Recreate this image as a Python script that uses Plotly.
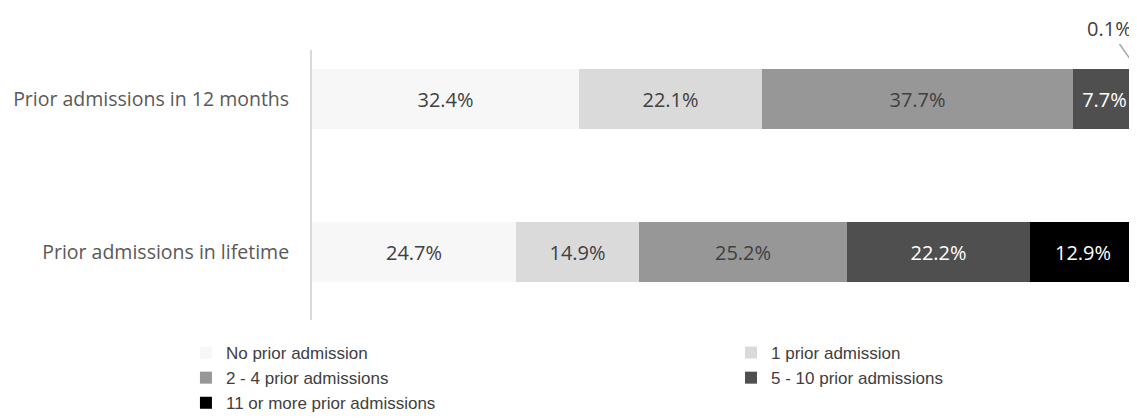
import plotly.graph_objects as go

categories = ["Prior admissions in lifetime", "Prior admissions in 12 months"]
series_names = ["No prior admission", "1 prior admission", "2 - 4 prior admissions",
                "5 - 10 prior admissions", "11 or more prior admissions"]
# values per series: [lifetime, 12 months]
no_prior = [24.7, 32.4]
one_prior = [14.9, 22.1]
two_four = [25.2, 37.7]
five_ten = [22.2, 7.7]
eleven_plus = [12.9, 0.1]

series_values = [no_prior, one_prior, two_four, five_ten, eleven_plus]
colors = ["#f7f7f7", "#dadada", "#979797", "#4f4f4f", "#000000"]
text_colors = ["#404040", "#404040", "#404040", "#ffffff", "#ffffff"]
legend_ids = ["legend", "legend2", "legend", "legend2", "legend"]

fig = go.Figure()
for name, vals, col, tcol, lg in zip(series_names, series_values, colors, text_colors, legend_ids):
    texts = [f"{v}%" if v >= 1 else "" for v in vals]
    fig.add_trace(go.Bar(
        y=categories, x=vals, name=name, orientation="h",
        marker=dict(color=col, line=dict(width=0)),
        text=texts, textposition="inside", insidetextanchor="middle",
        textfont=dict(family="Open Sans", size=20, color=tcol),
        width=0.392, hoverinfo="skip", legend=lg,
        constraintext="none",
    ))

# small-segment label outside
fig.add_annotation(
    x=sum(v[1] for v in series_values), y=1 + 0.196, xref="x", yref="y",
    text=f"{eleven_plus[1]}%", showarrow=True, arrowhead=0, arrowwidth=1.5,
    arrowcolor="#a6a6a6", ax=-28, ay=-40, standoff=0, startstandoff=0,
    font=dict(family="Open Sans", size=20, color="#404040"),
)

legend_font = dict(family="Liberation Sans", size=17, color="#404040")
fig.update_layout(
    width=1129, height=410,
    margin=dict(l=304, r=0, t=42, b=98, autoexpand=False),
    barmode="stack",
    plot_bgcolor="white", paper_bgcolor="white",
    showlegend=True,
    legend=dict(
        orientation="v", x=-0.1528, xanchor="left", y=-0.0556, yanchor="top",
        traceorder="normal", font=legend_font, itemwidth=30, tracegroupgap=0,
        bgcolor="rgba(0,0,0,0)",
    ),
    legend2=dict(
        orientation="v", x=0.5079, xanchor="left", y=-0.0556, yanchor="top",
        traceorder="normal", font=legend_font, itemwidth=30, tracegroupgap=0,
        bgcolor="rgba(0,0,0,0)",
    ),
    xaxis=dict(range=[0, 100], visible=False, fixedrange=True),
    yaxis=dict(
        categoryorder="array", categoryarray=categories,
        range=[-0.444, 1.32],
        showline=True, linecolor="#d9d9d9", linewidth=2,
        showgrid=False, zeroline=False, ticks="",
        ticklabelstandoff=17,
        tickfont=dict(family="Open Sans", size=19.5, color="#595959"),
    ),
    bargap=0,
)

fig.write_html("out.html")
